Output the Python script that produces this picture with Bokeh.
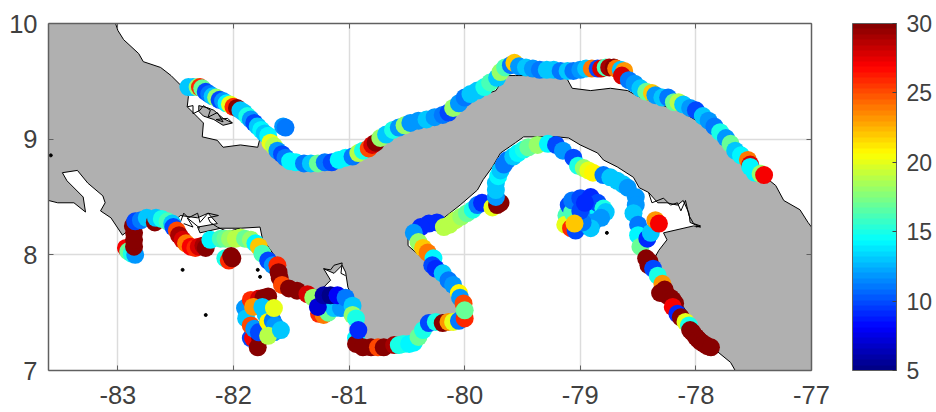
from bokeh.plotting import figure
from bokeh.models import LinearColorMapper, ColorBar, FixedTicker, LinearAxis, ColumnDataSource
from bokeh.embed import file_html
from bokeh.resources import INLINE

X_TICKS = [-83, -82, -81, -80, -79, -78, -77]
Y_TICKS = [7, 8, 9, 10]
CBAR_TICKS = [5, 10, 15, 20, 25, 30]

# coastline, running from the top edge round to the left edge
COAST_LON = [-83.02,-83.00,-82.95,-82.82,-82.78,-82.63,-82.54,-82.44,-82.39,-82.40,-82.31,-82.26,-82.27,-82.14,-82.09,-81.94,-81.79,-81.77,
 -81.70,-81.59,-81.51,-81.33,-81.07,-80.90,-80.75,-80.56,-80.30,-80.08,-79.95,-79.73,-79.65,-79.56,-79.35,-79.13,-79.07,-78.91,-78.74,-78.59,
 -78.48,-78.28,-78.11,-77.96,-77.81,-77.67,-77.53,-77.36,-77.31,-77.24,-77.10,-77.03,-77.00]
COAST_LAT = [10.0,9.94,9.86,9.74,9.67,9.62,9.55,9.45,9.37,9.28,9.19,9.14,9.02,8.99,8.93,8.95,8.93,9.01,
 8.95,8.84,8.75,8.73,8.77,8.83,8.92,9.06,9.15,9.23,9.34,9.42,9.55,9.55,9.55,9.55,9.44,9.42,9.44,9.42,
 9.36,9.29,9.23,9.14,9.02,8.86,8.72,8.64,8.60,8.47,8.39,8.28,8.24]
PACIFIC_LON = [-77.66,-77.70,-77.81,-77.87,-77.99,-78.13,-78.28,-78.37,-78.32,-78.25,-78.28,-78.02,-77.96,-78.05,-78.06,-78.11,-78.16,-78.25,-78.33,-78.41,
 -78.49,-78.54,-78.68,-78.80,-78.85,-79.00,-79.10,-79.20,-79.34,-79.49,-79.56,-79.69,-79.76,-79.84,-79.89,-80.04,-80.18,-80.38,-80.49,-80.49,-80.41,
 -80.27,-80.14,-80.08,-80.06,-80.05,-80.18,-80.32,-80.38,-80.47,-80.56,-80.67,-80.79,-80.97,-81.00,-80.90,-80.93,-80.96,-81.01,-81.03,-81.06,-81.13,-81.22,
 -81.16,-81.23,-81.31,-81.45,-81.58,-81.58,-81.65,-81.75,-81.77,-81.94,-82.11,-82.29,-82.31,-82.14,-82.22,-82.31,-82.46,-82.52,-82.69,-82.83,-82.91,-82.96,
 -83.06,-83.15,-83.11,-83.13,-83.26,-83.35,-83.48,-83.44,-83.30,-83.28,-83.38,-83.52,-83.60]
PACIFIC_LAT = [7.00,7.07,7.16,7.26,7.38,7.58,7.78,7.95,8.04,8.13,8.19,8.25,8.24,8.28,8.36,8.47,8.43,8.45,8.45,8.54,
 8.58,8.67,8.76,8.82,8.88,8.95,9.01,9.02,9.02,9.02,8.97,8.88,8.76,8.65,8.56,8.43,8.32,8.30,8.19,8.08,8.01,
 7.89,7.76,7.67,7.56,7.45,7.41,7.42,7.29,7.20,7.20,7.23,7.24,7.24,7.29,7.38,7.52,7.61,7.72,7.85,7.91,7.84,7.88,
 7.78,7.71,7.69,7.74,7.78,7.87,8.00,8.14,8.24,8.23,8.23,8.19,8.24,8.27,8.36,8.32,8.34,8.28,8.32,8.30,8.21,8.17,
 8.32,8.38,8.45,8.51,8.62,8.73,8.71,8.64,8.50,8.37,8.45,8.45,8.47]

BOCAS_LON = [-82.30,-82.22,-82.17,-82.09,-82.01,-82.09,-82.17,-82.26,-82.30]
BOCAS_LAT = [9.29,9.27,9.25,9.18,9.14,9.12,9.17,9.20,9.24]
ISLET_LON = [-82.44,-82.24,-81.79,-81.77,-78.77,-83.58]
ISLET_LAT = [7.87,7.48,7.87,7.81,8.19,8.86]

# jagged mangrove shorelines
BOCAS_SHORE_LON = [-82.40,-82.35,-82.35,-82.29,-82.26,-82.20,-82.22,-82.14,-82.09,-82.15,-82.05,-82.01]
BOCAS_SHORE_LAT = [9.28,9.29,9.22,9.25,9.29,9.25,9.19,9.23,9.15,9.17,9.18,9.14]
CHIRIQUI_SHORE_LON = [-82.46,-82.43,-82.39,-82.31,-82.29,-82.22,-82.13,-82.22,-82.20,-82.14,-82.05,-81.94]
CHIRIQUI_SHORE_LAT = [8.28,8.36,8.32,8.36,8.28,8.36,8.34,8.32,8.28,8.24,8.20,8.23]
CHIRIQUI_INNER_LON = [-82.43,-82.35,-82.40,-82.29]
CHIRIQUI_INNER_LAT = [8.27,8.24,8.32,8.23]
MONTIJO_SHORE_LON = [-81.22,-81.16,-81.13,-81.06,-81.07,-81.03]
MONTIJO_SHORE_LAT = [7.88,7.87,7.91,7.93,7.84,7.82]
DARIEN_SHORE_LON = [-78.41,-78.38,-78.28,-78.22,-78.16,-78.13,-78.09,-78.06,-78.02,-77.96,-78.00]
DARIEN_SHORE_LAT = [8.54,8.45,8.49,8.43,8.45,8.38,8.47,8.34,8.27,8.25,8.24]

# lon, lat, sea-surface value, in drawing order
CARIBBEAN = [(-82.39,9.45,13),(-82.35,9.45,13),(-82.31,9.45,18),(-82.29,9.45,26),(-82.27,9.44,17),(-82.24,9.41,10),(-82.21,9.39,11),
 (-82.18,9.37,13),(-82.15,9.36,18),(-82.12,9.34,10),(-82.09,9.33,12),(-82.06,9.31,14),(-82.03,9.30,20),(-82.00,9.28,26),(-81.97,9.27,30),
 (-81.94,9.25,13),(-81.91,9.23,13),(-81.88,9.20,15),(-81.85,9.17,12),(-81.82,9.14,10),(-81.79,9.11,13),(-81.76,9.08,14),(-81.73,9.05,13),
 (-81.70,9.03,14),(-81.68,8.97,20),(-81.65,8.94,19),(-81.62,8.90,12),(-81.58,8.87,10),(-81.55,8.84,11),(-81.51,8.81,14),(-81.46,8.80,14),
 (-81.39,8.79,11),(-81.33,8.79,13),(-81.27,8.79,17),(-81.21,8.80,11),(-81.15,8.80,10),(-81.09,8.82,14),(-81.03,8.84,14),(-80.97,8.85,11),
 (-80.92,8.88,19),(-80.88,8.90,15),(-80.83,8.92,25),(-80.80,8.95,28),(-80.77,8.97,30),(-80.73,9.01,18),(-80.68,9.04,13),(-80.62,9.08,15),
 (-80.57,9.10,12),(-80.52,9.12,18),(-80.47,9.14,12),(-80.40,9.16,12),(-80.33,9.17,13),(-80.26,9.19,12),(-80.19,9.21,11),(-80.14,9.23,10),
 (-80.10,9.27,18),(-80.05,9.31,12),(-80.00,9.36,11),(-79.95,9.39,13),(-79.89,9.42,13),(-79.83,9.45,15),(-79.78,9.49,16),(-79.72,9.53,13),
 (-79.69,9.58,18),(-79.65,9.62,16),(-79.60,9.64,11),(-79.57,9.66,22),(-79.53,9.63,12),(-79.47,9.62,13),(-79.41,9.61,12),(-79.35,9.60,11),
 (-79.29,9.60,13),(-79.23,9.60,13),(-79.17,9.59,11),(-79.11,9.59,13),(-79.06,9.59,11),(-79.00,9.60,12),(-78.95,9.61,13),(-78.90,9.61,24),
 (-78.85,9.61,10),(-78.82,9.61,28),(-78.78,9.62,16),(-78.75,9.62,29),(-78.71,9.62,30),(-78.69,9.61,24),(-78.65,9.60,13),(-78.62,9.59,23),
 (-78.64,9.55,28),(-78.58,9.51,11),(-78.53,9.48,12),(-78.48,9.44,13),(-78.43,9.41,17),(-78.38,9.40,22),(-78.35,9.38,12),(-78.29,9.36,13),
 (-78.24,9.36,11),(-78.19,9.32,17),(-78.15,9.32,19),(-78.11,9.30,13),(-78.05,9.27,12),(-78.00,9.25,10),(-77.94,9.20,13),(-77.89,9.16,12),
 (-77.84,9.11,11),(-77.79,9.06,15),(-77.74,9.01,12),(-77.70,8.96,17),(-77.66,8.90,13),(-77.61,8.86,14),(-77.55,8.82,24),(-77.53,8.78,28),
 (-77.53,8.76,14),(-77.49,8.71,14),(-77.44,8.70,18),(-77.41,8.69,27),(-81.57,9.11,12),(-81.55,9.10,11)]

CHIRIQUI = [(-82.93,8.06,27),(-82.91,8.03,17),(-82.88,8.01,15),(-82.85,8.00,12),(-82.86,8.07,30),(-82.86,8.13,30),(-82.86,8.19,30),(-82.87,8.25,30),
 (-82.85,8.29,10),(-82.80,8.30,11),(-82.75,8.32,13),(-82.68,8.28,30),(-82.67,8.32,13),(-82.62,8.31,15),(-82.57,8.29,16),(-82.53,8.27,13),
 (-82.52,8.24,10),(-82.49,8.21,25),(-82.47,8.17,29),(-82.44,8.13,28),(-82.41,8.10,24),(-82.37,8.07,27),(-82.33,8.06,26),(-82.30,8.07,28),
 (-82.26,8.08,29),(-82.24,8.06,30),(-82.20,8.13,14),(-82.11,8.14,16),(-82.07,8.14,17),(-82.03,8.14,18),(-81.98,8.14,19),(-81.94,8.15,19),(-81.90,8.14,17),(-81.85,8.13,18),(-81.81,8.10,14),
 (-81.78,8.07,22),(-81.75,8.01,16),(-81.70,7.95,10),(-81.66,7.91,12),(-81.62,7.91,26),(-81.61,7.85,30),(-81.60,7.80,30),(-81.58,7.74,25),
 (-81.52,7.71,30),(-81.45,7.69,30),(-81.36,7.66,28),(-81.31,7.63,18)]

VERAGUAS = [(-81.26,7.49,26),(-81.22,7.48,24),(-81.18,7.50,17),(-81.13,7.54,13),(-81.07,7.54,12),(-81.27,7.55,7),(-81.22,7.65,6),(-81.16,7.65,5),
 (-81.10,7.65,8),(-81.03,7.63,11),(-80.97,7.56,13),(-80.97,7.48,18),(-80.94,7.45,15),(-80.94,7.28,14),(-80.94,7.23,30),(-80.88,7.20,30),
 (-80.81,7.20,30),(-80.75,7.20,25),(-80.70,7.20,30),(-80.61,7.22,29),(-80.57,7.22,15),(-80.53,7.23,15),(-80.48,7.23,14),(-80.44,7.24,14),(-80.40,7.29,17),(-80.36,7.35,15),(-80.92,7.35,9)]

AZUERO = [(-80.31,7.41,10),(-80.25,7.42,15),(-80.19,7.41,30),(-80.14,7.42,23),(-80.10,7.42,20),(-80.05,7.43,11),(-80.00,7.45,26),(-80.24,8.28,9),
 (-80.31,8.27,9),(-80.38,8.24,9),(-80.44,8.19,12),(-80.40,8.11,18),(-80.36,8.06,22),(-80.32,8.02,24),(-80.27,7.97,14),(-80.28,7.91,10),(-80.25,7.88,9),
 (-80.19,7.84,13),(-80.14,7.78,11),(-80.10,7.74,12),(-80.05,7.67,21),(-80.04,7.63,12),(-80.01,7.58,25),(-80.00,7.52,17)]

GULF = [(-80.18,8.24,19),(-80.13,8.26,19),(-80.08,8.30,19),(-80.03,8.33,18),(-79.98,8.36,17),(-79.93,8.39,15),(-79.89,8.43,11),(-79.85,8.45,9),
 (-79.76,8.41,20),(-79.72,8.43,30),(-79.69,8.45,30),(-79.73,8.50,12),(-79.73,8.56,13),(-79.73,8.62,13),(-79.71,8.68,14),(-79.69,8.73,13),(-79.66,8.78,11),(-79.63,8.82,11),(-79.58,8.85,13),(-79.54,8.88,14),
 (-79.49,8.91,15),(-79.45,8.93,17),(-79.37,8.95,18),(-79.28,8.96,14),(-79.21,8.95,10),(-79.15,8.90,12),(-79.06,8.84,10),(-79.02,8.77,15),(-78.97,8.75,18),
 (-78.93,8.73,20),(-78.89,8.71,21),(-78.80,8.69,11),(-78.74,8.67,13),(-78.68,8.64,13),(-78.63,8.61,13),(-78.59,8.58,12),(-78.52,8.50,12),(-78.52,8.43,12),(-78.54,8.36,13),
 (-78.50,8.26,11),(-78.50,8.17,14),(-78.48,8.07,17),(-78.42,8.14,9),(-78.39,8.19,13),(-78.35,8.30,23),(-78.32,8.27,27)]

DARIEN = [(-78.43,7.97,30),(-78.40,7.94,30),(-78.41,7.91,30),(-78.37,7.88,10),(-78.33,7.82,15),(-78.29,7.75,23),(-78.31,7.67,30),(-78.27,7.70,30),(-78.25,7.65,30),(-78.22,7.63,30),(-78.20,7.61,30),
 (-78.18,7.58,30),(-78.20,7.55,27),(-78.16,7.49,9),(-78.13,7.46,30),(-78.09,7.42,20),(-78.06,7.39,15),(-78.05,7.35,30),(-78.03,7.33,30),(-78.00,7.29,30),(-77.98,7.27,30),(-77.96,7.25,30),(-77.93,7.23,30),(-77.90,7.21,30),(-77.87,7.20,30)]

COIBA = [(-82.07,7.97,15),(-82.04,7.95,26),(-82.02,7.99,30),(-82.01,7.97,30)]

MONTUOSA = [(-81.85,7.28,10),(-81.83,7.28,27),(-81.79,7.20,30),(-81.77,7.28,30),(-81.90,7.54,12),(-81.89,7.45,13),(-81.85,7.39,25),(-81.82,7.36,12),
 (-81.78,7.33,10),(-81.85,7.61,26),(-81.78,7.62,28),(-81.74,7.63,30),(-81.70,7.64,30),(-81.83,7.55,23),(-81.75,7.55,13),(-81.72,7.48,13),
 (-81.70,7.42,21),(-81.66,7.43,11),(-81.64,7.39,12),(-81.65,7.33,12),(-81.70,7.30,19),(-81.59,7.35,13),(-81.65,7.54,20)]

PEARL = [(-78.93,8.37,11),(-78.88,8.40,11),(-78.95,8.33,12),(-79.02,8.32,10),(-79.05,8.42,11),(-78.98,8.43,9),(-78.86,8.34,12),(-78.84,8.38,14),
 (-79.12,8.34,16),(-79.13,8.26,20),(-79.08,8.23,26),(-79.04,8.21,10),(-79.04,8.28,22),(-79.10,8.43,10),(-79.07,8.37,16),(-79.07,8.47,11),
 (-79.00,8.49,10),(-78.91,8.50,9),(-78.85,8.45,10),(-78.80,8.40,15),(-78.78,8.37,13),(-78.82,8.32,12),(-78.89,8.28,12),(-78.91,8.23,13),
 (-78.98,8.28,11),(-79.00,8.38,10),(-78.96,8.45,9),(-79.05,8.27,22)]

def jet(n):
    def ch(t):
        return int(round(255 * max(0.0, min(1.0, t))))
    out = []
    for i in range(n):
        v = (i + 0.5) / n
        r = min(4 * v - 1.5, -4 * v + 4.5)
        g = min(4 * v - 0.5, -4 * v + 3.5)
        b = min(4 * v + 0.5, -4 * v + 2.5)
        out.append("#%02x%02x%02x" % (ch(r), ch(g), ch(b)))
    return out

INK = "#404040"
mapper = LinearColorMapper(palette=jet(64), low=5, high=30)

p = figure(width=936, height=412, frame_width=763, frame_height=347, x_range=(-83.6, -77), y_range=(7, 10),
           output_backend="svg", toolbar_location=None, min_border_left=48, min_border_top=23, min_border_bottom=42, min_border_right=0,
           background_fill_color="white", border_fill_color="white")

land_x = [-83.6] + COAST_LON + [-77.0] + PACIFIC_LON
land_y = [10.0] + COAST_LAT + [7.0] + PACIFIC_LAT
p.patch(land_x, land_y, fill_color="#b0b0b0", line_color=None)
p.line(COAST_LON, COAST_LAT, line_color="black", line_width=1)
p.line(PACIFIC_LON, PACIFIC_LAT, line_color="black", line_width=1)
p.patch(BOCAS_LON, BOCAS_LAT, fill_color="#b0b0b0", line_color="black", line_width=1)
for sx, sy in ((BOCAS_SHORE_LON, BOCAS_SHORE_LAT), (CHIRIQUI_SHORE_LON, CHIRIQUI_SHORE_LAT),
               (CHIRIQUI_INNER_LON, CHIRIQUI_INNER_LAT), (MONTIJO_SHORE_LON, MONTIJO_SHORE_LAT),
               (DARIEN_SHORE_LON, DARIEN_SHORE_LAT)):
    p.line(sx, sy, line_color="black", line_width=1)
p.scatter(ISLET_LON, ISLET_LAT, size=3, color="black")

points = CARIBBEAN + CHIRIQUI + VERAGUAS + AZUERO + GULF + DARIEN + COIBA + MONTUOSA + PEARL
src = ColumnDataSource(dict(lon=[t[0] for t in points], lat=[t[1] for t in points], val=[t[2] for t in points]))
p.scatter("lon", "lat", source=src, size=18, line_color=None, fill_color={"field": "val", "transform": mapper})

for ax, ticks in ((p.xaxis[0], X_TICKS), (p.yaxis[0], Y_TICKS)):
    ax.ticker = FixedTicker(ticks=ticks)
    ax.major_tick_in = 5
    ax.major_tick_out = 0
    ax.minor_tick_line_color = None
    ax.axis_line_color = "#606060"
    ax.axis_line_width = 1.5
    ax.major_tick_line_color = "#606060"
    ax.major_label_text_font = "Liberation Sans"
    ax.major_label_text_font_size = "25.5px"
    ax.major_label_text_color = INK
p.xaxis[0].major_label_standoff = 15
p.yaxis[0].major_label_standoff = 11
p.xaxis[0].major_label_overrides = {t: str(t) for t in X_TICKS}

for side, ticks in (("above", X_TICKS), ("right", Y_TICKS)):
    ax = LinearAxis(ticker=FixedTicker(ticks=ticks), major_tick_in=5, major_tick_out=0, minor_tick_line_color=None,
                    axis_line_color="#606060", axis_line_width=1.5, major_tick_line_color="#606060",
                    major_label_overrides={t: "" for t in ticks}, major_label_standoff=0)
    p.add_layout(ax, side)

p.xgrid.ticker = FixedTicker(ticks=X_TICKS)
p.ygrid.ticker = FixedTicker(ticks=Y_TICKS)
p.grid.grid_line_color = "#dcdcdc"
p.grid.grid_line_width = 1.5
p.outline_line_color = None

cb = ColorBar(color_mapper=mapper, ticker=FixedTicker(ticks=CBAR_TICKS), width=44, height=347, padding=0, margin=0,
              location=(41, 0),
              major_tick_in=4, major_tick_out=0, major_tick_line_color=INK, minor_tick_line_color=None,
              bar_line_color="#606060", major_label_text_font="Liberation Sans", major_label_text_font_size="23px",
              major_label_text_color=INK, label_standoff=10)
p.add_layout(cb, "right")

open("out.html", "w").write(file_html(p, INLINE))
